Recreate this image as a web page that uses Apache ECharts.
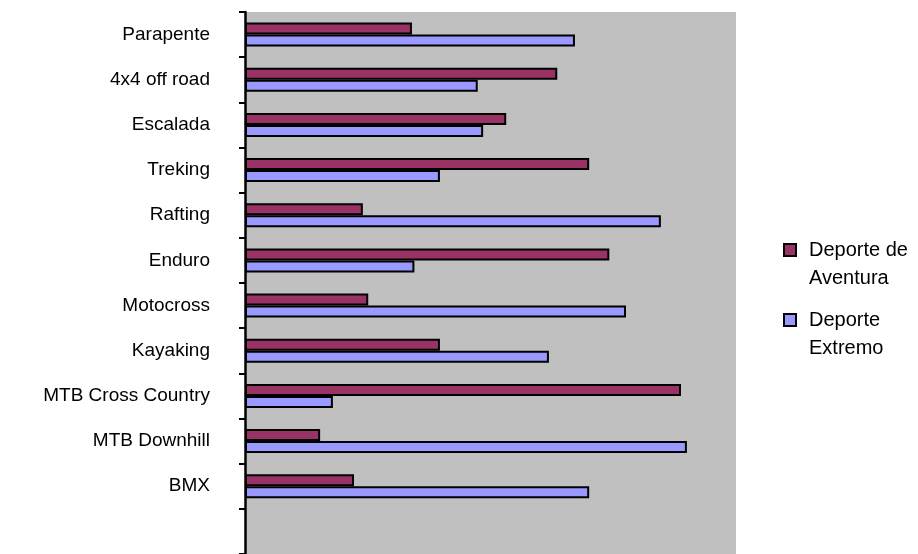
<!DOCTYPE html>
<html>
<head>
<meta charset="utf-8">
<script src="https://cdn.jsdelivr.net/npm/echarts@6/dist/echarts.min.js"></script>
<style>
  html, body { margin: 0; padding: 0; background: #fff; }
  #chart { width: 918px; height: 554px; }
</style>
</head>
<body>
<div id="chart"></div>
<script>
// categories top to bottom (last slot is an empty row in the sheet)
const categories = ['Parapente', '4x4 off road', 'Escalada', 'Treking', 'Rafting', 'Enduro',
    'Motocross', 'Kayaking', 'MTB Cross Country', 'MTB Downhill', 'BMX', ''];
const seriesNames = ['Deporte de\nAventura', 'Deporte\nExtremo'];
const aventura = [34.0, 63.6, 53.2, 70.1, 24.0, 74.2, 25.1, 39.7, 88.8, 15.3, 22.2, null];
const extremo  = [67.2, 47.4, 48.5, 39.7, 84.7, 34.5, 77.6, 61.9, 17.9, 90.0, 70.1, null];

const FONT = '"Liberation Sans", Arial, sans-serif';

const chart = echarts.init(document.getElementById('chart'));

chart.setOption({
    animation: false,
    grid: {
        left: 245,
        top: 12,
        width: 491,
        height: 544,
        show: true,
        backgroundColor: '#c0c0c0',
        borderWidth: 0
    },
    legend: {
        orient: 'vertical',
        left: 783,
        top: 208,
        padding: 0,
        itemGap: -14,
        itemWidth: 12,
        itemHeight: 12,
        icon: 'rect',
        // leading blank line so the marker sits beside the first text line
        formatter: name => '\n' + name,
        textStyle: {
            fontFamily: FONT,
            fontSize: 20,
            color: '#000',
            lineHeight: 28,
            padding: [0, 0, 0, 8]
        }
    },
    xAxis: {
        type: 'value',
        min: 0,
        max: 100,
        show: false,
        splitLine: { show: false }
    },
    yAxis: {
        type: 'category',
        inverse: true,
        data: categories,
        axisLine: { show: true, lineStyle: { color: '#000', width: 2.5 } },
        axisTick: {
            show: true,
            interval: 0,
            length: 6,
            lineStyle: { color: '#000', width: 2 }
        },
        axisLabel: {
            interval: 0,
            margin: 35,
            color: '#000',
            fontFamily: FONT,
            fontSize: 19
        },
        splitLine: { show: false }
    },
    series: [
        {
            name: seriesNames[0],
            type: 'bar',
            data: aventura,
            barWidth: 12,
            barGap: '0%',
            itemStyle: { color: '#993366', borderColor: '#000', borderWidth: 2 }
        },
        {
            name: seriesNames[1],
            type: 'bar',
            data: extremo,
            barWidth: 12,
            barGap: '0%',
            itemStyle: { color: '#9999ff', borderColor: '#000', borderWidth: 2 }
        }
    ]
});
</script>
</body>
</html>
